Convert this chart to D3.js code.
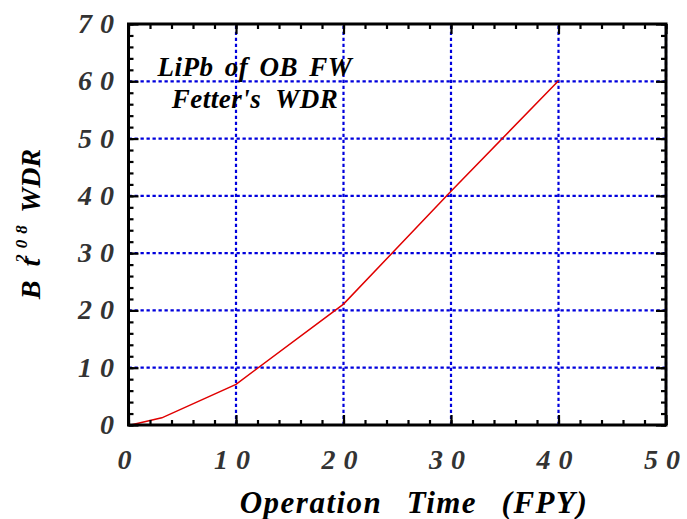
<!DOCTYPE html>
<html><head><meta charset="utf-8">
<script src="https://cdn.jsdelivr.net/npm/d3@7"></script>
<style>body{margin:0;background:#fff;} svg{display:block;}</style>
</head><body>
<svg id="c" width="687" height="519"></svg>
<script>
const xValues = [0.2, 3.1, 10, 20, 30, 40];
const yValues = [0, 1.25, 7.1, 21.1, 40.8, 60.1];
const xTicks = [0, 10, 20, 30, 40, 50];
const yTicks = [0, 10, 20, 30, 40, 50, 60, 70];
const xMinor = d3.range(0, 50.01, 2);
const yMinor = d3.range(0, 70.01, 2);
const annotation = ["LiPb of OB FW", "Fetter's  WDR"];
const xTitle = "Operation  Time  (FPY)";

const svg = d3.select("#c");
const L = 128.5, R = 666, T = 24, B = 425;
const x = d3.scaleLinear().domain([0, 50]).range([L, R]);
const y = d3.scaleLinear().domain([0, 70]).range([B, T]);
const font = "'Liberation Serif', 'Times New Roman', serif";

// grid
const grid = svg.append("g").attr("stroke", "#0000dd").attr("stroke-width", 2.2).attr("stroke-dasharray", "3.3,2.7");
grid.selectAll(".gx").data(xTicks).join("line").attr("x1", d => x(d)).attr("x2", d => x(d)).attr("y1", B).attr("y2", T);
grid.selectAll(".gy").data(yTicks).join("line").attr("y1", d => y(d)).attr("y2", d => y(d)).attr("x1", L).attr("x2", R);

// data line
const line = d3.line().x(d => x(d[0])).y(d => y(d[1]));
svg.append("path").datum(xValues.map((v, i) => [v, yValues[i]]))
  .attr("d", line).attr("fill", "none").attr("stroke", "#e00000").attr("stroke-width", 1.5);

// axes with inward ticks
function ticks(axisGen, tr) {
  const g = svg.append("g").attr("transform", tr).call(axisGen);
  g.select(".domain").remove();
  g.selectAll("line").attr("stroke", "#000").attr("stroke-width", 2.2);
  return g;
}
const minorLen = 5, majorLen = 10;
ticks(d3.axisBottom(x).tickValues(xMinor).tickSize(-minorLen).tickFormat(""), `translate(0,${B})`);
ticks(d3.axisBottom(x).tickValues(xTicks).tickSize(-majorLen).tickFormat(""), `translate(0,${B})`);
ticks(d3.axisTop(x).tickValues(xMinor).tickSize(-minorLen).tickFormat(""), `translate(0,${T})`);
ticks(d3.axisTop(x).tickValues(xTicks).tickSize(-majorLen).tickFormat(""), `translate(0,${T})`);
ticks(d3.axisLeft(y).tickValues(yMinor).tickSize(-minorLen).tickFormat(""), `translate(${L},0)`);
ticks(d3.axisLeft(y).tickValues(yTicks).tickSize(-majorLen).tickFormat(""), `translate(${L},0)`);
ticks(d3.axisRight(y).tickValues(yMinor).tickSize(-minorLen).tickFormat(""), `translate(${R},0)`);
ticks(d3.axisRight(y).tickValues(yTicks).tickSize(-majorLen).tickFormat(""), `translate(${R},0)`);

// frame
svg.append("rect").attr("x", L).attr("y", T).attr("width", R - L).attr("height", B - T)
  .attr("fill", "none").attr("stroke", "#000").attr("stroke-width", 3);

// tick labels
const lab = {"font-family": font, "font-style": "italic", "font-weight": "bold", "font-size": "28px", "fill": "#333"};
function applyAttrs(sel, o) { for (const k in o) sel.attr(k, o[k]); return sel; }
applyAttrs(svg.append("g").selectAll("text").data(xTicks).join("text")
  .attr("x", d => x(d)).attr("y", 469).attr("text-anchor", "middle")
  .attr("letter-spacing", "8px").text(d => d), lab);
applyAttrs(svg.append("g").selectAll("text").data(yTicks).join("text")
  .attr("x", 122).attr("y", d => y(d) + 9).attr("text-anchor", "end")
  .attr("letter-spacing", "8px").text(d => d), lab);

// axis titles
svg.append("text").attr("x", 414).attr("y", 513).attr("text-anchor", "middle")
  .attr("font-family", font).attr("font-style", "italic").attr("font-weight", "bold")
  .attr("font-size", "31px").attr("fill", "#000").attr("letter-spacing", "1.5px")
  .attr("word-spacing", "3px").style("white-space", "pre").text(xTitle);

const yt = svg.append("text").attr("transform", "translate(40,224) rotate(-90)").attr("text-anchor", "middle")
  .attr("font-family", font).attr("font-style", "italic").attr("font-weight", "bold")
  .attr("font-size", "28px").attr("fill", "#000").style("white-space", "pre");
yt.append("tspan").text("B  ");
yt.append("tspan").text("t");
yt.append("tspan").attr("font-size", "17px").attr("dy", -13).attr("dx", -4).attr("letter-spacing", "6px").text("208");
yt.append("tspan").attr("dy", 13).text(" WDR");

// annotation
svg.append("g").selectAll("text").data(annotation).join("text")
  .attr("x", 255).attr("y", (d, i) => 76 + i * 32).attr("text-anchor", "middle")
  .attr("font-family", font).attr("font-style", "italic").attr("font-weight", "bold")
  .attr("font-size", "27px").attr("fill", "#000").attr("letter-spacing", "0.5px")
  .attr("word-spacing", (d, i) => i === 0 ? "4px" : "0px").style("white-space", "pre").text(d => d);
</script>
</body></html>
